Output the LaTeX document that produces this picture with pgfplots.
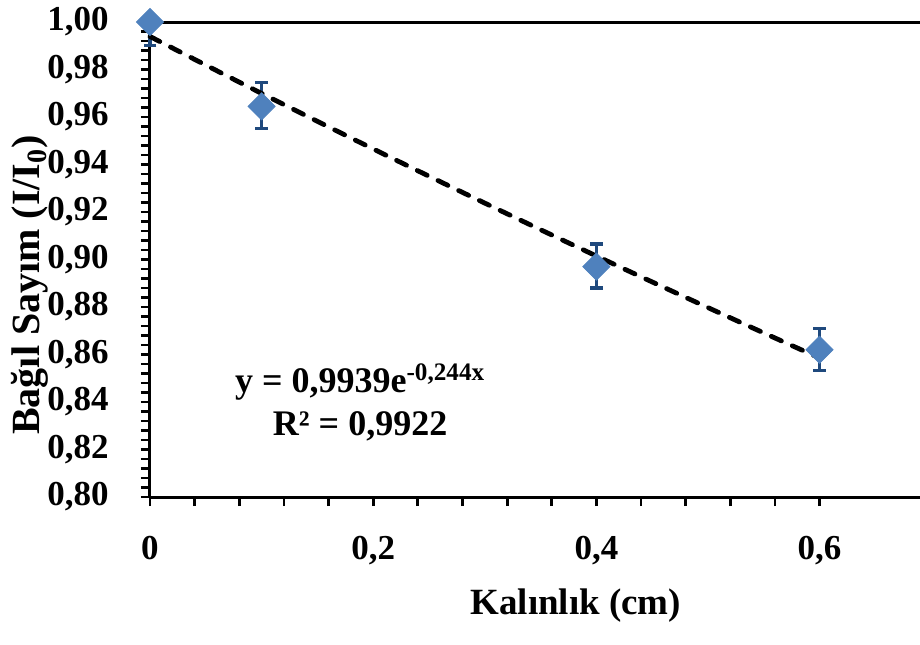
\documentclass[border=0pt]{standalone}
\usepackage{fontspec}
\setmainfont{Liberation Serif}
\usepackage{pgfplots}
\pgfplotsset{compat=1.18}
\definecolor{markblue}{RGB}{79,129,189}
\definecolor{barblue}{RGB}{31,73,125}

\newcommand{\lblfont}{\fontsize{17.5}{21}\selectfont\bfseries}
\newcommand{\eqfont}{\fontsize{18}{22}\selectfont\bfseries}

\begin{document}
\begin{tikzpicture}
\useasboundingbox (-75pt,-73.5pt) rectangle (385pt,248.5pt);
\begin{axis}[
  at={(0pt,0pt)}, anchor=south west,
  scale only axis, width=385pt, height=237.5pt,
  xmin=0, xmax=0.69, ymin=0.8, ymax=1.0,
  axis x line*=bottom, axis y line*=left,
  axis line style={line width=1.5pt, black},
  tick align=outside,
  major tick length=4.5pt, minor tick length=4.5pt,
  every tick/.style={black, line width=1.4pt},
  xtick={0,0.2,0.4,0.6},
  xticklabels={0,{0,2},{0,4},{0,6}},
  minor x tick num=4,
  ytick={0.80,0.82,0.84,0.86,0.88,0.90,0.92,0.94,0.96,0.98,1.00},
  yticklabels={{0,80},{0,82},{0,84},{0,86},{0,88},{0,90},{0,92},{0,94},{0,96},{0,98},{1,00}},
  minor y tick num=4,
  tick label style={font=\lblfont},
  yticklabel style={anchor=east, inner sep=0pt, xshift=-16pt},
  xticklabel style={anchor=north, inner sep=0pt, yshift=-15pt},
  xlabel={Kalınlık (cm)},
  xlabel style={at={(axis description cs:0.553,-0.2484)}, anchor=base,
                font=\fontsize{18.5}{22}\selectfont\bfseries},
  ylabel={Bağıl Sayım (I/I\textsubscript{0})},
  ylabel style={at={(axis description cs:-0.1429,0.4463)}, anchor=base, rotate=0,
                font=\fontsize{20}{24}\selectfont\bfseries},
  clip=false,
]
% upper frame line of the plot area
\draw[line width=1.5pt, black] (axis cs:0,1) -- (axis cs:0.69,1);

% measured relative counts with their uncertainties
\addplot[only marks, mark=square*, mark size=4.8pt,
  mark options={rotate=45, fill=markblue, draw=markblue},
  error bars/.cd, y dir=both, y explicit,
  error bar style={barblue, line width=1.6pt},
  error mark options={rotate=90, barblue, mark size=3.2pt, line width=1.6pt}]
  table[x=x, y=y, y error plus=ep, y error minus=em] {
x    y       ep      em
0    1.0000  0.0000  0.0100
0.1  0.9645  0.0100  0.0095
0.4  0.8970  0.0095  0.0090
0.6  0.8620  0.0090  0.0088
};

% exponential trend line y = 0.9939 exp(-0.244 x), tabulated
\addplot[black, line width=2.4pt, dash pattern=on 5.5pt off 6pt, line cap=round, smooth]
  coordinates {
  (0.00,0.99390) (0.05,0.98185) (0.10,0.96994) (0.15,0.95818)
  (0.20,0.94656) (0.25,0.93508) (0.30,0.92375) (0.35,0.91255)
  (0.40,0.90148) (0.45,0.89055) (0.50,0.87975) (0.55,0.86908)
  (0.60,0.85854)};

\node[anchor=base, font=\eqfont] at (axis cs:0.1883,0.8438)
  {y = 0,9939e\textsuperscript{-0,244x}};
\node[anchor=base, font=\eqfont] at (axis cs:0.1883,0.8261)
  {R² = 0,9922};
\end{axis}
\end{tikzpicture}
\end{document}
